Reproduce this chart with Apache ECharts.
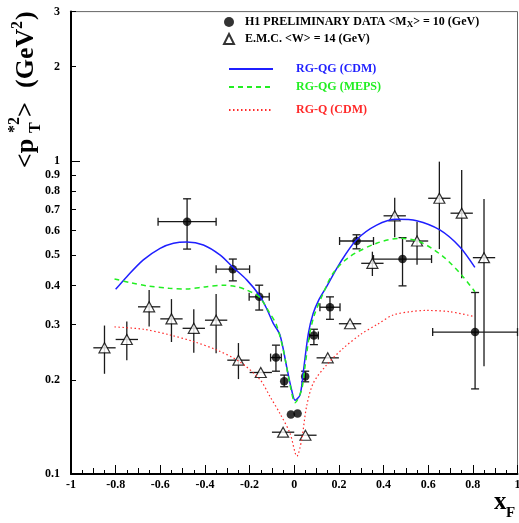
<!DOCTYPE html>
<html>
<head>
<meta charset="utf-8">
<script src="https://cdn.jsdelivr.net/npm/echarts@6/dist/echarts.min.js"></script>
<style>
  html, body { margin: 0; padding: 0; background: #fff; }
  #chart { width: 519px; height: 523px; }
</style>
</head>
<body>
<div id="chart"></div>
<script>
// H1 preliminary data, <M_X> = 10 GeV
const h1X     = [-0.48, -0.275, -0.157, -0.082, -0.045, -0.015, 0.015, 0.049, 0.088, 0.160, 0.279, 0.485, 0.81];
const h1Y     = [0.640, 0.451, 0.368, 0.2355, 0.198, 0.155, 0.156, 0.205, 0.277, 0.341, 0.555, 0.486, 0.284];
const h1YLow  = [0.523, 0.414, 0.334, 0.213, 0.190, 0.155, 0.156, 0.197, 0.259, 0.312, 0.524, 0.399, 0.187];
const h1YHigh = [0.757, 0.486, 0.401, 0.258, 0.207, 0.155, 0.156, 0.213, 0.290, 0.368, 0.581, 0.569, 0.380];
const h1XErr  = [0.13, 0.075, 0.045, 0.024, 0, 0, 0, 0, 0.02, 0.045, 0.076, 0.13, 0.19];

// E.M.C. data, <W> = 14 GeV
const emcX     = [-0.85, -0.75, -0.65, -0.55, -0.45, -0.35, -0.25, -0.15, -0.05, 0.05, 0.15, 0.25, 0.35, 0.45, 0.55, 0.65, 0.75, 0.85];
const emcY     = [0.253, 0.269, 0.342, 0.313, 0.292, 0.310, 0.231, 0.211, 0.136, 0.133, 0.235, 0.302, 0.471, 0.668, 0.555, 0.760, 0.681, 0.491];
const emcYLow  = [0.209, 0.231, 0.296, 0.264, 0.244, 0.243, 0.201, 0.211, 0.136, 0.133, 0.235, 0.302, 0.429, 0.571, 0.466, 0.523, 0.422, 0.221];
const emcYHigh = [0.298, 0.307, 0.387, 0.362, 0.336, 0.376, 0.262, 0.211, 0.136, 0.133, 0.235, 0.302, 0.513, 0.763, 0.640, 0.995, 0.936, 0.756];
const emcXErr  = [0.05, 0.05, 0.05, 0.05, 0.05, 0.05, 0.05, 0.05, 0.05, 0.05, 0.05, 0.05, 0.05, 0.05, 0.05, 0.05, 0.05, 0.05];

// Model curves
const cdmX = [-0.80, -0.75, -0.676, -0.601, -0.541, -0.481, -0.407, -0.333, -0.274, -0.213, -0.157, -0.124, -0.094, -0.064, -0.034, -0.012, 0.004, 0.026, 0.040, 0.063, 0.085, 0.11, 0.145, 0.204, 0.279, 0.369, 0.458, 0.548, 0.652, 0.741, 0.809];
const cdmY = [0.389, 0.427, 0.483, 0.526, 0.546, 0.551, 0.539, 0.501, 0.457, 0.417, 0.373, 0.338, 0.303, 0.278, 0.220, 0.186, 0.172, 0.179, 0.210, 0.281, 0.326, 0.360, 0.397, 0.471, 0.560, 0.624, 0.651, 0.644, 0.602, 0.532, 0.457];

const mepsX = [-0.805, -0.73, -0.66, -0.56, -0.481, -0.40, -0.318, -0.26, -0.213, -0.157, -0.109, -0.08, -0.049, -0.019, 0.004, 0.033, 0.048, 0.068, 0.09, 0.130, 0.174, 0.249, 0.369, 0.473, 0.562, 0.667, 0.756, 0.809];
const mepsY = [0.420, 0.408, 0.399, 0.392, 0.390, 0.396, 0.401, 0.397, 0.387, 0.368, 0.326, 0.300, 0.249, 0.193, 0.169, 0.186, 0.220, 0.278, 0.322, 0.378, 0.438, 0.495, 0.546, 0.566, 0.552, 0.495, 0.427, 0.382];

const qX = [-0.805, -0.676, -0.556, -0.452, -0.347, -0.243, -0.153, -0.109, -0.064, -0.019, 0.012, 0.033, 0.055, 0.085, 0.145, 0.219, 0.30, 0.37, 0.443, 0.52, 0.592, 0.697, 0.809];
const qY = [0.295, 0.290, 0.278, 0.265, 0.249, 0.228, 0.200, 0.177, 0.156, 0.135, 0.114, 0.1285, 0.164, 0.195, 0.223, 0.252, 0.280, 0.300, 0.322, 0.330, 0.333, 0.330, 0.318];

// Axis ticks and labels
const xMajorStep = 0.2;
const xMidStep = 0.1;
const yLabelValues = [0.1, 0.2, 0.3, 0.4, 0.5, 0.6, 0.7, 0.8, 0.9, 1, 2, 3];
const yLongTicks = [0.1, 1];
const yShortTicks = [0.2, 0.3, 0.4, 0.5, 0.6, 0.7, 0.8, 0.9, 2, 3];

const SERIF = '"Liberation Serif", "DejaVu Serif", serif';
const BLUE = '#1f1fff';
const GREEN = '#22ee22';
const RED = '#ff2a2a';

const pairs = (xs, ys) => xs.map((x, i) => [x, ys[i]]);
const errRows = (xs, ys, lo, hi, xe) => xs.map((x, i) => [x, ys[i], lo[i], hi[i], xe[i]]);

// Error bars: vertical bar from low to high, horizontal bar +/- x error, optional end caps
function errorBars(cap) {
  return function (params, api) {
    const x = api.value(0), y = api.value(1), lo = api.value(2), hi = api.value(3), xe = api.value(4);
    const pLo = api.coord([x, lo]);
    const pHi = api.coord([x, hi]);
    const style = { stroke: '#1a1a1a', lineWidth: 1.3 };
    const children = [];
    const seg = (x1, y1, x2, y2) => children.push({ type: 'line', shape: { x1, y1, x2, y2 }, style });
    if (hi > lo) {
      seg(pLo[0], pLo[1], pHi[0], pHi[1]);
      if (cap) {
        seg(pLo[0] - cap, pLo[1], pLo[0] + cap, pLo[1]);
        seg(pHi[0] - cap, pHi[1], pHi[0] + cap, pHi[1]);
      }
    }
    if (xe > 0) {
      const pL = api.coord([x - xe, y]);
      const pR = api.coord([x + xe, y]);
      seg(pL[0], pL[1], pR[0], pR[1]);
      if (cap) {
        seg(pL[0], pL[1] - cap, pL[0], pL[1] + cap);
        seg(pR[0], pR[1] - cap, pR[0], pR[1] + cap);
      }
    }
    return { type: 'group', children };
  };
}

const chart = echarts.init(document.getElementById('chart'), null, { renderer: 'canvas' });

const tickLabelStyle = { fontFamily: SERIF, fontWeight: 'bold', fontSize: 12, color: '#000' };
const legendText = { fontFamily: SERIF, fontWeight: 'bold', fontSize: 12, lineHeight: 14 };

function lineLegend(name, top, color) {
  return {
    data: [name], left: 228, top: top, padding: 0,
    itemWidth: 44, itemHeight: 10, selectedMode: false,
    itemStyle: { opacity: 0 },
    formatter: '{t|{name}}',
    textStyle: {
      color: color,
      rich: { t: Object.assign({ color: color, padding: [0, 0, 0, 18] }, legendText) }
    }
  };
}

const option = {
  backgroundColor: '#fff',
  animation: false,
  grid: {
    left: 71, right: 1.5, top: 11.6, bottom: 49,
    outerBoundsMode: 'none', containLabel: false,
    show: true, borderColor: '#666', borderWidth: 1, backgroundColor: 'transparent'
  },
  xAxis: [
    {
      type: 'value', min: -1, max: 1, interval: xMajorStep, position: 'bottom',
      axisLine: { onZero: false, lineStyle: { color: '#000', width: 2 } },
      axisTick: { inside: true, length: 9, lineStyle: { color: '#000', width: 1 } },
      minorTick: { show: true, splitNumber: 4, length: 4, lineStyle: { color: '#000', width: 1 } },
      axisLabel: Object.assign({ margin: 5 }, tickLabelStyle),
      splitLine: { show: false }
    },
    {
      type: 'value', min: -1, max: 1, interval: xMidStep, position: 'bottom',
      axisLine: { show: false, onZero: false },
      axisTick: { inside: true, length: 6, lineStyle: { color: '#000', width: 1 } },
      axisLabel: { show: false },
      splitLine: { show: false }
    }
  ],
  yAxis: [
    {
      type: 'log', logBase: 10, min: 0.1, max: 3, position: 'left',
      axisLine: { onZero: false, lineStyle: { color: '#000', width: 2 } },
      axisTick: { inside: true, length: 9, customValues: yLongTicks, lineStyle: { color: '#000', width: 1 } },
      axisLabel: Object.assign({ margin: 11, customValues: yLabelValues }, tickLabelStyle),
      splitLine: { show: false }
    },
    {
      type: 'log', logBase: 10, min: 0.1, max: 3, position: 'left',
      axisLine: { show: false, onZero: false },
      axisTick: { inside: true, length: 5, customValues: yShortTicks, lineStyle: { color: '#000', width: 1 } },
      axisLabel: { show: false },
      splitLine: { show: false }
    }
  ],
  legend: [
    {
      data: ['H1', 'EMC'], orient: 'vertical', left: 223, top: 16, padding: 0,
      itemWidth: 10, itemHeight: 10, itemGap: 4, selectedMode: false,
      formatter: function (name) {
        return name === 'H1'
          ? '{p|H1 PRELIMINARY DATA <M}{s|X}{t|> = 10 (GeV)}'
          : '{p|E.M.C. <W> = 14 (GeV)}';
      },
      textStyle: {
        color: '#000',
        rich: {
          p: Object.assign({ color: '#000', padding: [0, 0, 0, 6] }, legendText),
          t: Object.assign({ color: '#000' }, legendText),
          s: { color: '#000', fontFamily: SERIF, fontWeight: 'bold', fontSize: 9, verticalAlign: 'bottom', lineHeight: 10, padding: [4, 0, 0, 0] }
        }
      }
    },
    lineLegend('RG-QG (CDM)', 63, BLUE),
    lineLegend('RG-QG (MEPS)', 81, GREEN),
    lineLegend('RG-Q (CDM)', 104, RED)
  ],
  graphic: [
    {
      type: 'group', x: 0, y: 170, rotation: Math.PI / 2, silent: true,
      children: [
        { type: 'text', x: 2,   y: 26.2, style: { text: '<p',   font: 'bold 26px ' + SERIF, fill: '#000', verticalAlign: 'middle' } },
        { type: 'text', x: 37,  y: 14.6, style: { text: '*2',   font: 'bold 16px ' + SERIF, fill: '#000', verticalAlign: 'middle' } },
        { type: 'text', x: 37,  y: 35.6, style: { text: 'T',    font: 'bold 16px ' + SERIF, fill: '#000', verticalAlign: 'middle' } },
        { type: 'text', x: 53,  y: 26.2, style: { text: '>',    font: 'bold 26px ' + SERIF, fill: '#000', verticalAlign: 'middle' } },
        { type: 'text', x: 82,  y: 26.2, style: { text: '(GeV', font: 'bold 26px ' + SERIF, fill: '#000', verticalAlign: 'middle' } },
        { type: 'text', x: 141, y: 17.6, style: { text: '2',    font: 'bold 16px ' + SERIF, fill: '#000', verticalAlign: 'middle' } },
        { type: 'text', x: 150, y: 26.2, style: { text: ')',    font: 'bold 26px ' + SERIF, fill: '#000', verticalAlign: 'middle' } }
      ]
    },
    { type: 'text', x: 494, y: 503, silent: true, style: { text: 'x', font: 'bold 25px ' + SERIF, fill: '#000', verticalAlign: 'middle' } },
    { type: 'text', x: 506, y: 513, silent: true, style: { text: 'F', font: 'bold 15px ' + SERIF, fill: '#000', verticalAlign: 'middle' } }
  ],
  series: [
    {
      name: 'H1 errors', type: 'custom', xAxisIndex: 0, yAxisIndex: 0, z: 2, silent: true,
      renderItem: errorBars(4), encode: { x: 0, y: 1 },
      data: errRows(h1X, h1Y, h1YLow, h1YHigh, h1XErr)
    },
    {
      name: 'EMC errors', type: 'custom', xAxisIndex: 0, yAxisIndex: 0, z: 2, silent: true,
      renderItem: errorBars(0), encode: { x: 0, y: 1 },
      data: errRows(emcX, emcY, emcYLow, emcYHigh, emcXErr)
    },
    {
      name: 'H1', type: 'scatter', xAxisIndex: 0, yAxisIndex: 0, z: 3,
      symbol: 'circle', symbolSize: 8.5,
      itemStyle: { color: '#000' },
      data: pairs(h1X, h1Y)
    },
    {
      name: 'EMC', type: 'scatter', xAxisIndex: 0, yAxisIndex: 0, z: 3,
      symbol: 'triangle', symbolSize: [11, 10],
      itemStyle: { color: '#fff', borderColor: '#000', borderWidth: 1.2 },
      data: pairs(emcX, emcY)
    },
    {
      name: 'RG-QG (CDM)', type: 'line', xAxisIndex: 0, yAxisIndex: 0, z: 4,
      symbol: 'none', smooth: 0.3,
      lineStyle: { color: BLUE, width: 1.5 }, itemStyle: { color: BLUE },
      data: pairs(cdmX, cdmY)
    },
    {
      name: 'RG-QG (MEPS)', type: 'line', xAxisIndex: 0, yAxisIndex: 0, z: 4,
      symbol: 'none', smooth: 0.3,
      lineStyle: { color: GREEN, width: 1.5, type: [5, 4] }, itemStyle: { color: GREEN },
      data: pairs(mepsX, mepsY)
    },
    {
      name: 'RG-Q (CDM)', type: 'line', xAxisIndex: 0, yAxisIndex: 0, z: 4,
      symbol: 'none', smooth: 0.3,
      lineStyle: { color: RED, width: 1.2, type: [1.5, 2.5] }, itemStyle: { color: RED },
      data: pairs(qX, qY)
    }
  ]
};

chart.setOption(option);
</script>
</body>
</html>
